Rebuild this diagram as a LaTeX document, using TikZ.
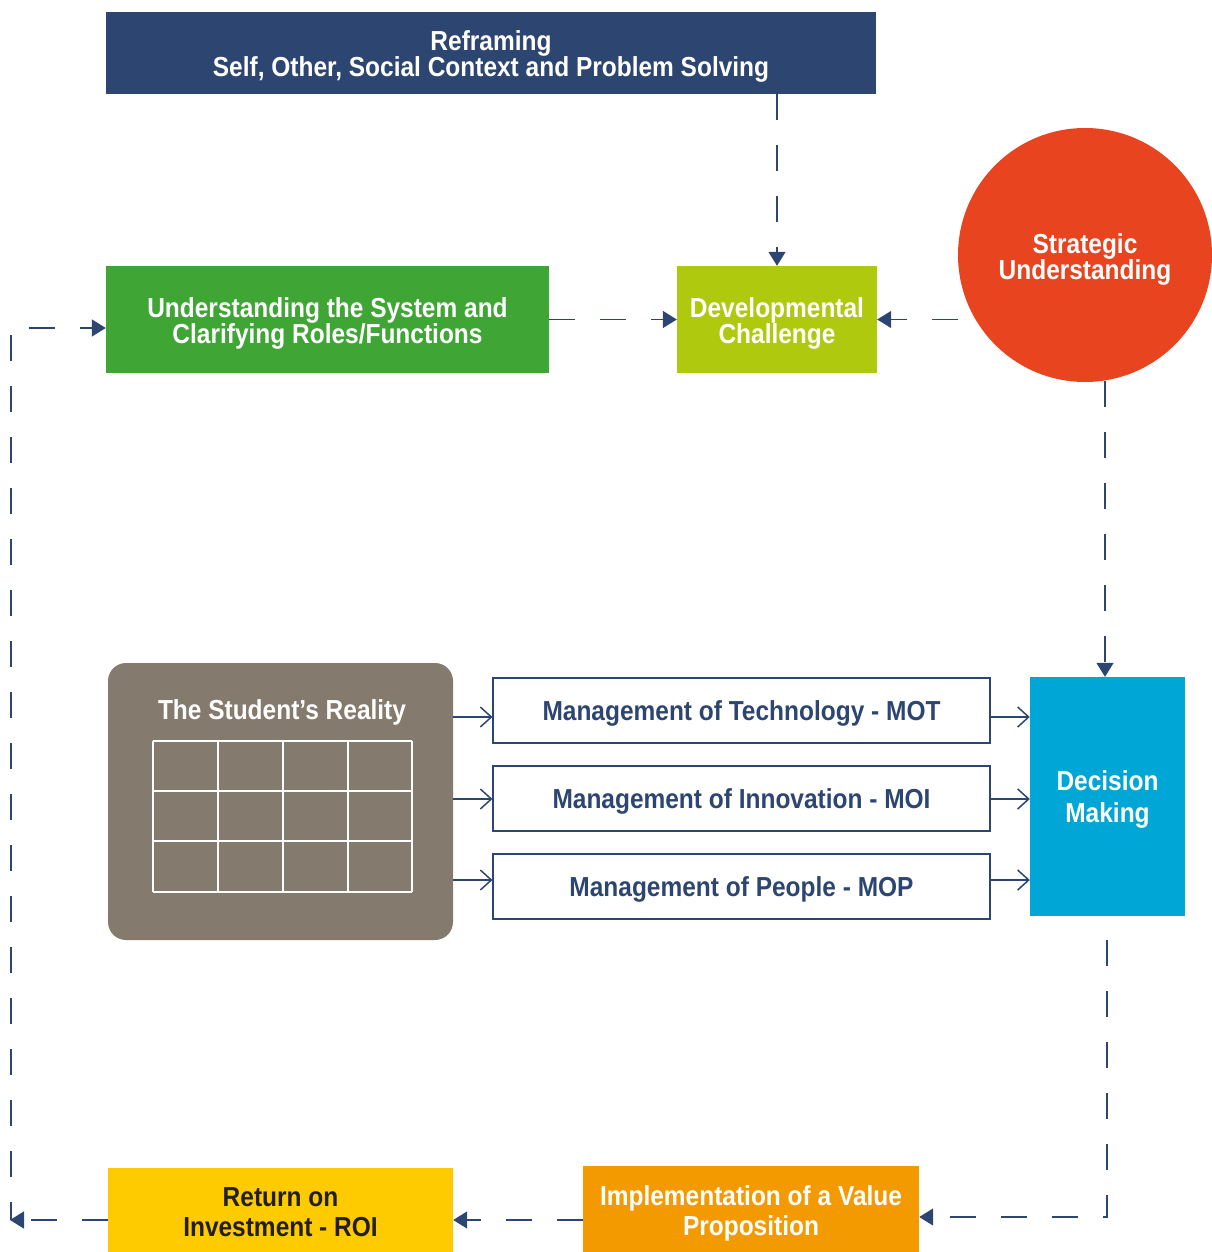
\documentclass[tikz,border=0pt]{standalone}
\usepackage{fontspec}
\setmainfont{Liberation Sans}[FakeStretch=0.89]
\usetikzlibrary{arrows.meta,calc}
\definecolor{navy}{HTML}{2D4671}
\definecolor{cgreen}{HTML}{3FA535}
\definecolor{clime}{HTML}{AEC90E}
\definecolor{cred}{HTML}{E84420}
\definecolor{ctaupe}{HTML}{857A6E}
\definecolor{cblue}{HTML}{00A6D6}
\definecolor{corange}{HTML}{F39A00}
\definecolor{cyellow}{HTML}{FDCB00}
\definecolor{cdark}{HTML}{231F20}
\begin{document}
\begin{tikzpicture}[x=1pt,y=-1pt,
  box/.style={draw=none,inner sep=0pt},
  txt/.style={align=center,inner sep=0pt,text=white,
    font=\fontsize{27.5}{26}\selectfont\bfseries},
  mbox/.style={draw=navy,line width=1.1pt,fill=white,inner sep=0pt,
    minimum width=497pt,minimum height=65pt},
  dline/.style={draw=navy,line width=1.5pt,dash pattern=on 26pt off 25pt},
  dtip/.style={-{Triangle[width=17pt,length=14pt]}},
  sarrow/.style={draw=navy,line width=1.5pt,-{Straight Barb[width=20pt,length=11pt,line width=1.5pt]}}]
\useasboundingbox (0,0) rectangle (1211,1252);

% nodes
\node[box,fill=navy,minimum width=770pt,minimum height=82pt,
  label={[txt,yshift=-3pt]center:{Reframing\\Self, Other, Social Context and Problem Solving}}] (reframe) at (491,53) {};
\node[box,fill=cgreen,minimum width=443pt,minimum height=107pt,
  label={[txt,yshift=-3.5pt]center:{Understanding the System and\\Clarifying Roles/Functions}}] (green) at (327.5,319.5) {};
\node[box,fill=clime,minimum width=200pt,minimum height=107pt,
  label={[txt,yshift=-3.5pt]center:{Developmental\\Challenge}}] (lime) at (777,319.5) {};
\node[box,fill=cred,circle,minimum size=254pt,
  label={[txt,yshift=-4pt]center:{Strategic\\Understanding}}] (circ) at (1085,255) {};
\node[box,fill=ctaupe,rounded corners=18pt,minimum width=345pt,minimum height=277pt] (taupe) at (280.5,801.5) {};
\node[txt,anchor=base] (title) at (282,719) {The Student’s Reality};
\foreach \gx in {153,218,283,348,412}
  \draw[white,line width=1.6pt] (\gx,741) -- (\gx,892);
\foreach \gy in {741,791,841,892}
  \draw[white,line width=1.6pt] (153,\gy) -- (412,\gy);
\node[mbox,label={[txt,text=navy,yshift=-3pt]center:{Management of Technology - MOT}}] (mot) at (741.5,710.5) {};
\node[mbox,label={[txt,text=navy,yshift=-3pt]center:{Management of Innovation - MOI}}] (moi) at (741.5,798.5) {};
\node[mbox,label={[txt,text=navy,yshift=-3pt]center:{Management of People - MOP}}] (mop) at (741.5,886.5) {};
\node[box,fill=cblue,minimum width=155pt,minimum height=239pt,
  label={[txt,yshift=-3pt,font=\fontsize{27.5}{32}\selectfont\bfseries]center:{Decision\\Making}}] (dec) at (1107.5,796.5) {};
\node[box,fill=corange,minimum width=336pt,minimum height=86pt,
  label={[txt,yshift=-4.5pt,font=\fontsize{27.5}{30}\selectfont\bfseries]center:{Implementation of a Value\\Proposition}}] (impl) at (751,1209) {};
\node[box,fill=cyellow,minimum width=345pt,minimum height=84pt,
  label={[txt,text=cdark,yshift=-2.5pt,font=\fontsize{27.5}{30}\selectfont\bfseries]center:{Return on\\Investment - ROI}}] (roi) at (280.5,1210) {};

% helper coordinates
\coordinate (y1) at (0,717);
\coordinate (y2) at (0,799);
\coordinate (y3) at (0,880);
\coordinate (cb) at (1105,381);
\coordinate (db) at (1107,940);
\coordinate (y7) at (0,1217);
\coordinate (y8) at (0,1220);
\coordinate (lc) at (10,1220);
\coordinate (lu) at (11,328);

% dashed connectors
\draw[dline,dtip,navy] (lime.north |- reframe.south) -- (lime.north);
\draw[dline,dtip,navy] (green.east) -- (lime.west);
\draw[dline,dtip,navy] (circ.west |- lime.east) -- (lime.east);
\draw[dline,dtip,navy] (cb) -- (cb |- dec.north);
\draw[dline,dtip,navy] (db) -- (db |- y7) -- (impl.east |- y7);
\draw[dline,dtip,navy] (impl.west |- y8) -- (roi.east |- y8);
\draw[dline,dtip,navy] (roi.west |- y8) -- (lc);
\draw[dline,dtip,navy,dash phase=8pt] (lc) ++(1,0) -- (lu) -- (green.west |- lu);

% solid arrows
\draw[sarrow] (taupe.east |- y1) -- (mot.west |- y1);
\draw[sarrow] (taupe.east |- y2) -- (moi.west |- y2);
\draw[sarrow] (taupe.east |- y3) -- (mop.west |- y3);
\draw[sarrow] (mot.east |- y1) -- (dec.west |- y1);
\draw[sarrow] (moi.east |- y2) -- (dec.west |- y2);
\draw[sarrow] (mop.east |- y3) -- (dec.west |- y3);
\end{tikzpicture}
\end{document}
